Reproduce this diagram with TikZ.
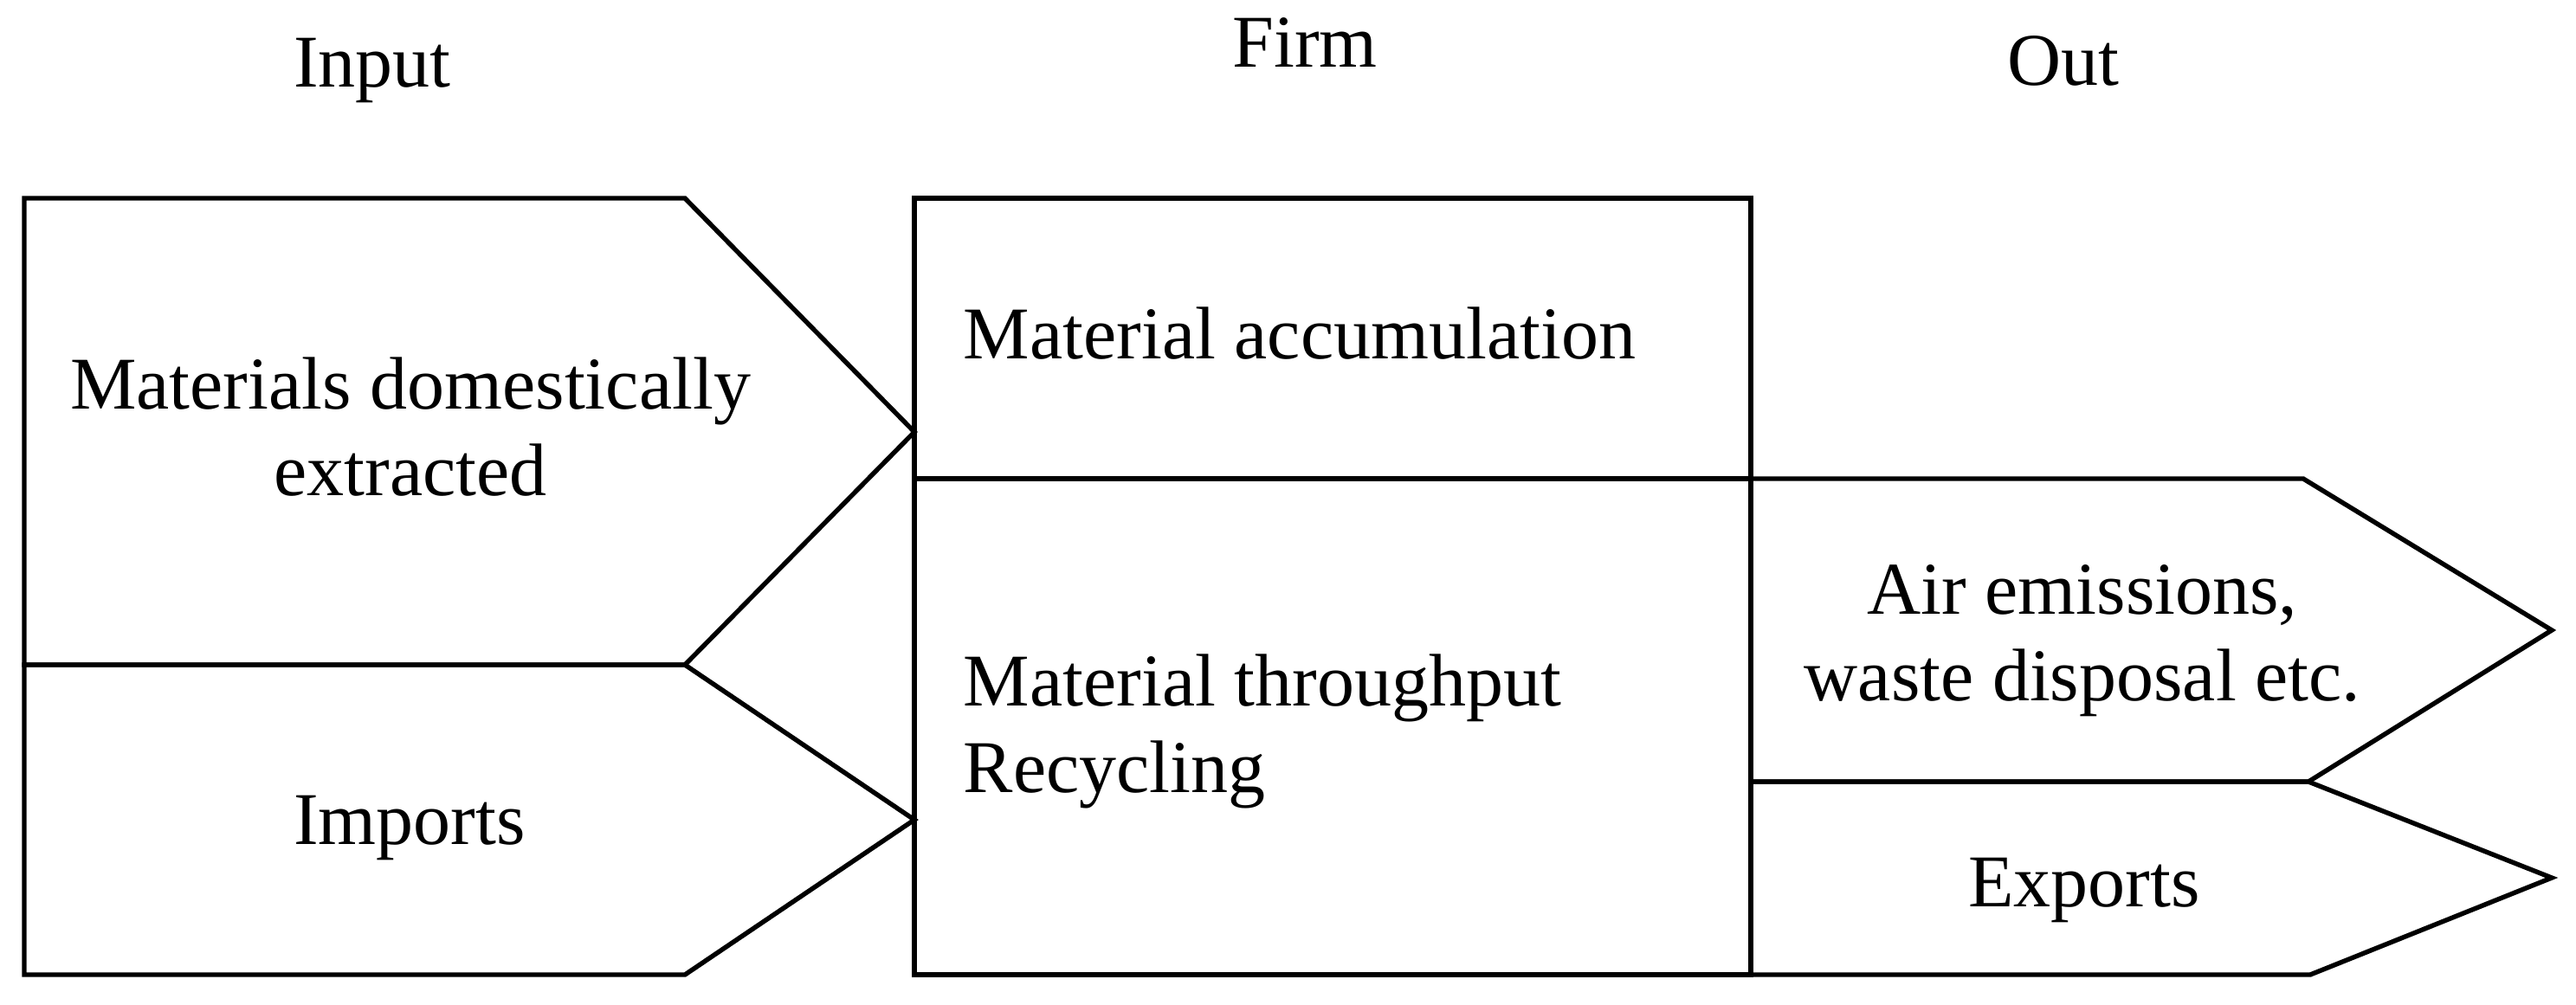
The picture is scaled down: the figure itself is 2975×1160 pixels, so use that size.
\documentclass[tikz,border=0pt]{standalone}
\usepackage{fontspec}
\setmainfont{Liberation Serif}
\begin{document}
\begin{tikzpicture}[x=0.25pt,y=-0.25pt,
  shp/.style={draw=black, line width=1.35pt, line join=miter},
  lbl/.style={inner sep=0pt, font=\fontsize{21.5}{25}\selectfont, align=center, anchor=base},
  lbll/.style={inner sep=0pt, font=\fontsize{21.5}{25}\selectfont, align=left, anchor=base west}]
\useasboundingbox (0,0) rectangle (2975,1160);
% input side
\draw[shp] (28,229) -- (791,229) -- (1056,499) -- (791,768) -- (28,768) -- cycle;
\draw[shp] (28,768) -- (791,768) -- (1056,947) -- (791,1126) -- (28,1126) -- cycle;
% firm
\draw[shp] (1056,229) rectangle (2022,1126);
\draw[shp] (1056,553) -- (2022,553);
% output side
\draw[shp] (2022,553) -- (2660,553) -- (2947,728) -- (2666,903) -- (2022,903);
\draw[shp] (2022,903) -- (2666,903) -- (2947,1014) -- (2668,1126) -- (2022,1126);
% headers
\node[lbl] (hin) at (430,100) {Input};
\node[lbl] (hfirm) at (1507,77) {Firm};
\node[lbl] (hout) at (2383,98) {Out};
% texts (base anchor = baseline of last line)
\node[lbl] (mde) at (474,572) {Materials domestically\\extracted};
\node[lbl] (imp) at (473,975) {Imports};
\node[lbll] (acc) at (1112,414) {Material accumulation};
\node[lbll] (thr) at (1112,915) {Material throughput\\Recycling};
\node[lbl] (air) at (2405,809) {Air emissions,\\waste disposal etc.};
\node[lbl] (exp) at (2407,1047) {Exports};
\end{tikzpicture}
\end{document}
